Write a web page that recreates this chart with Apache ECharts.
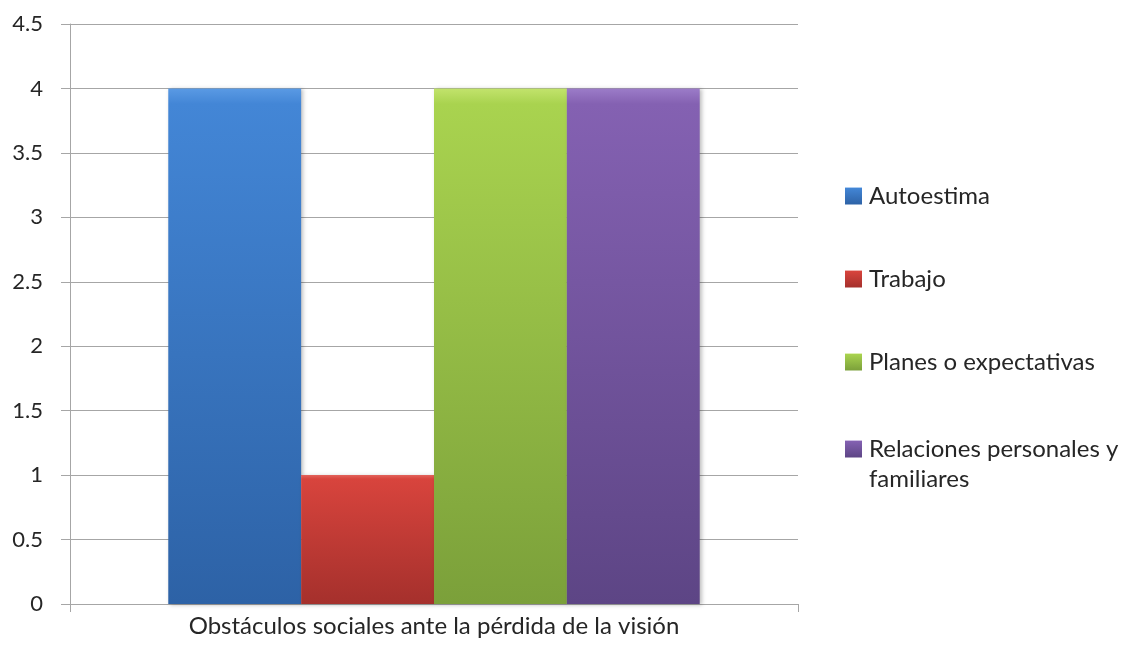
<!DOCTYPE html>
<html>
<head>
<meta charset="utf-8">
<script src="https://cdn.jsdelivr.net/npm/echarts@6/dist/echarts.min.js"></script>
<style>html,body{margin:0;padding:0;background:#fff;}#c{width:1125px;height:649px;}</style>
</head>
<body>
<div id="c"></div>
<script>
const categories = ['Obstáculos sociales ante la pérdida de la visión'];
const seriesNames = ['Autoestima', 'Trabajo', 'Planes o expectativas', 'Relaciones personales y familiares'];
const autoestima = [4];
const trabajo = [1];
const planes = [4];
const relaciones = [4];
const yTicks = { min: 0, max: 4.5, interval: 0.5 };

const palettes = [
  ['#5a9ae4', '#4386d6', '#2d62a6'],
  ['#e2625b', '#d8443d', '#a5302c'],
  ['#c2e36c', '#a9d34f', '#7ba03a'],
  ['#9c7cc8', '#8461b2', '#5d4585']
];
const values = [autoestima, trabajo, planes, relaciones];

function grad(p) {
  return new echarts.graphic.LinearGradient(0, 0, 0, 1, [
    { offset: 0, color: p[0] },
    { offset: 0.03, color: p[1] },
    { offset: 1, color: p[2] }
  ]);
}

const FONT = 'Lato';
const legendBase = {
  orient: 'vertical',
  left: 840,
  itemGap: 53,
  itemWidth: 17,
  itemHeight: 17,
  icon: 'rect',
  textStyle: { fontFamily: FONT, fontSize: 24, color: '#262626', lineHeight: 30, padding: [0, 0, 0, 2] }
};

const chart = echarts.init(document.getElementById('c'));
chart.setOption({
  animation: false,
  backgroundColor: '#ffffff',
  textStyle: { fontFamily: FONT },
  grid: { left: 70, right: 327, top: 24, bottom: 45, containLabel: false },
  legend: [
    Object.assign({}, legendBase, {
      top: 176,
      data: seriesNames.slice(0, 3)
    }),
    Object.assign({}, legendBase, {
      top: 399,
      data: seriesNames.slice(3),
      formatter: function () {
        return '\nRelaciones personales y\nfamiliares';
      }
    })
  ],
  xAxis: {
    type: 'category',
    data: categories,
    axisLine: { show: true, lineStyle: { color: '#a6a6a6', width: 1 } },
    axisTick: { show: true, length: 8, lineStyle: { color: '#a6a6a6' } },
    axisLabel: { fontFamily: FONT, fontSize: 24, color: '#262626', margin: 10 }
  },
  yAxis: {
    type: 'value',
    min: yTicks.min,
    max: yTicks.max,
    interval: yTicks.interval,
    axisLine: { show: true, lineStyle: { color: '#a6a6a6', width: 1 } },
    axisTick: { show: true, length: 9, lineStyle: { color: '#a6a6a6' } },
    splitLine: { show: true, lineStyle: { color: '#a6a6a6', width: 1 } },
    axisLabel: { fontFamily: FONT, fontSize: 22, color: '#262626', margin: 27 }
  },
  series: seriesNames.map((name, i) => ({
    name: name,
    type: 'bar',
    data: values[i],
    barGap: '0%',
    barCategoryGap: '27%',
    itemStyle: {
      color: grad(palettes[i]),
      shadowColor: 'rgba(0,0,0,0.25)',
      shadowBlur: 4,
      shadowOffsetX: 2,
      shadowOffsetY: 1
    }
  }))
});
</script>
</body>
</html>
